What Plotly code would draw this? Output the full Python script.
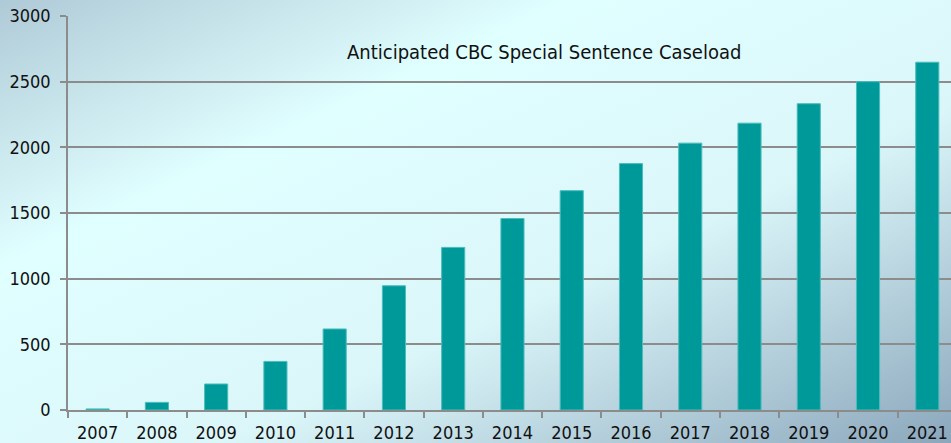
import plotly.graph_objects as go
import urllib.parse

years = ["2007", "2008", "2009", "2010", "2011", "2012", "2013", "2014",
         "2015", "2016", "2017", "2018", "2019", "2020", "2021"]
caseload = [8, 58, 198, 370, 617, 946, 1238, 1458, 1670, 1876, 2032, 2184, 2332, 2500, 2648]
y_ticks = [0, 500, 1000, 1500, 2000, 2500, 3000]
title_text = "Anticipated CBC Special Sentence Caseload"

FONT = "DejaVu Sans Condensed, DejaVu Sans, sans-serif"

svg = (
    "<svg xmlns='http://www.w3.org/2000/svg' width='951' height='443' preserveAspectRatio='none' viewBox='0 0 951 443'>"
    "<defs><linearGradient id='g' x1='0' y1='0' x2='1' y2='1'>"
    "<stop offset='0' stop-color='#afcad7'/>"
    "<stop offset='0.3' stop-color='#e0ffff'/>"
    "<stop offset='0.62' stop-color='#dbf6f9'/>"
    "<stop offset='1' stop-color='#8ba7bc'/>"
    "</linearGradient></defs>"
    "<rect width='951' height='443' fill='url(#g)'/></svg>"
)
src = "data:image/svg+xml;charset=utf-8," + urllib.parse.quote(svg)

fig = go.Figure()
fig.add_trace(go.Bar(
    x=years, y=caseload,
    marker=dict(color="#009999", line=dict(color="#4cbcbc", width=1)),
    width=0.39,
))

fig.add_annotation(
    text=title_text, xref="paper", yref="paper",
    x=(543.5 - 68) / 883, y=(410 - 52) / 394,
    xanchor="center", yanchor="middle", showarrow=False,
    font=dict(family=FONT, size=20, color="#111111"),
)

fig.add_layout_image(dict(
    source=src, xref="paper", yref="paper",
    x=-68 / 883, y=1 + 16 / 394, sizex=951 / 883, sizey=443 / 394,
    xanchor="left", yanchor="top", sizing="stretch", layer="below",
))

fig.update_layout(
    width=951, height=443,
    margin=dict(l=68, r=0, t=16, b=33),
    paper_bgcolor="#e0ffff",
    plot_bgcolor="rgba(0,0,0,0)",
    showlegend=False,
    font=dict(family=FONT, size=18, color="#111111"),
    xaxis=dict(
        range=[-0.5, 14.4], tickson="boundaries", ticks="outside", ticklen=6,
        tickcolor="#8c8c8c", tickwidth=1.5,
        showline=True, linecolor="#8c8c8c", linewidth=1.5,
        showgrid=False, fixedrange=True, ticklabelstandoff=6,
        tickfont=dict(family=FONT, size=18, color="#111111"),
    ),
    yaxis=dict(
        range=[0, 3000], tickvals=y_ticks, ticks="outside", ticklen=6,
        tickcolor="#8c8c8c", tickwidth=1.5,
        showline=True, linecolor="#8c8c8c", linewidth=1.5,
        showgrid=True, gridcolor="#8c8c8c", gridwidth=1.5,
        zeroline=False, fixedrange=True, ticklabelstandoff=6,
        tickfont=dict(family=FONT, size=18, color="#111111"),
    ),
)

fig.write_html(
    "out.html",
    config={"displayModeBar": False},
    post_script="document.body.style.margin='0';document.body.style.overflow='hidden';",
)
